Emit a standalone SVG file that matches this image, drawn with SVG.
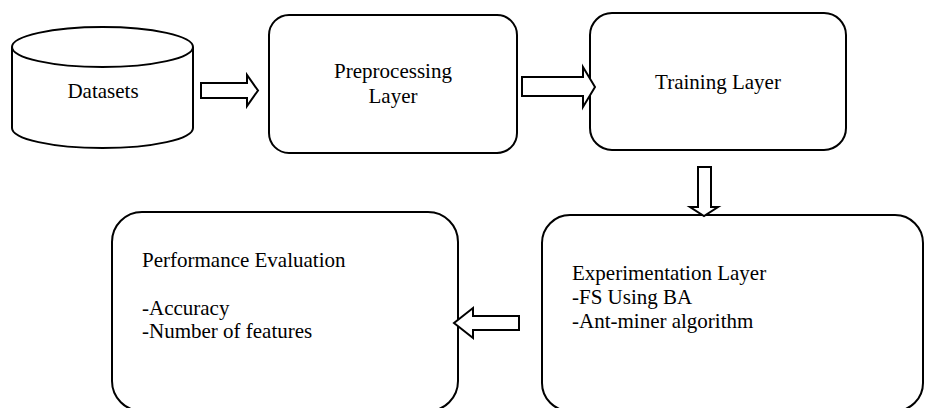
<svg xmlns="http://www.w3.org/2000/svg" width="925" height="408" viewBox="0 0 925 408">
<style>
.s{fill:#fff;stroke:#000;stroke-width:2}
.t{font-family:"Liberation Serif","Times New Roman",serif;font-size:21px;fill:#000}
.m{text-anchor:middle}
</style>
<rect width="925" height="408" fill="#fff"/>
<g id="datasets">
<path class="s" d="M12,47 L12,128 A90.5,20 0 0 0 193,128 L193,47"/>
<ellipse class="s" cx="102.5" cy="47" rx="90.5" ry="20"/>
<text class="t m" x="103" y="98">Datasets</text>
</g>
<g id="preprocessing">
<rect class="s" x="269" y="15" width="248" height="138" rx="20" ry="20"/>
<text class="t m" x="393" y="78">Preprocessing</text>
<text class="t m" x="393" y="103">Layer</text>
</g>
<g id="training">
<rect class="s" x="590" y="13" width="256" height="137" rx="22" ry="22"/>
<text class="t m" x="718" y="89">Training Layer</text>
</g>
<g id="experimentation">
<rect class="s" x="542" y="215" width="381" height="196" rx="28" ry="28"/>
<text class="t" x="572" y="280">Experimentation Layer</text>
<text class="t" x="572" y="304">-FS Using BA</text>
<text class="t" x="572" y="328">-Ant-miner algorithm</text>
</g>
<g id="performance">
<rect class="s" x="112" y="212" width="346" height="199" rx="30" ry="30"/>
<text class="t" x="142" y="267">Performance Evaluation</text>
<text class="t" x="142" y="315">-Accuracy</text>
<text class="t" x="142" y="338">-Number of features</text>
</g>
<g id="connectors">
<polygon class="s" points="201,83 247,83 247,75 258,90.5 247,106 247,98 201,98"/>
<polygon class="s" points="522,77 583,77 583,67 595,87 583,107 583,96 522,96"/>
<polygon class="s" points="698,167 711,167 711,207 718,207 704,216 690,207 698,207"/>
<polygon class="s" points="519,316 473,316 473,308 454,323 473,338 473,330 519,330"/>
</g>
</svg>
